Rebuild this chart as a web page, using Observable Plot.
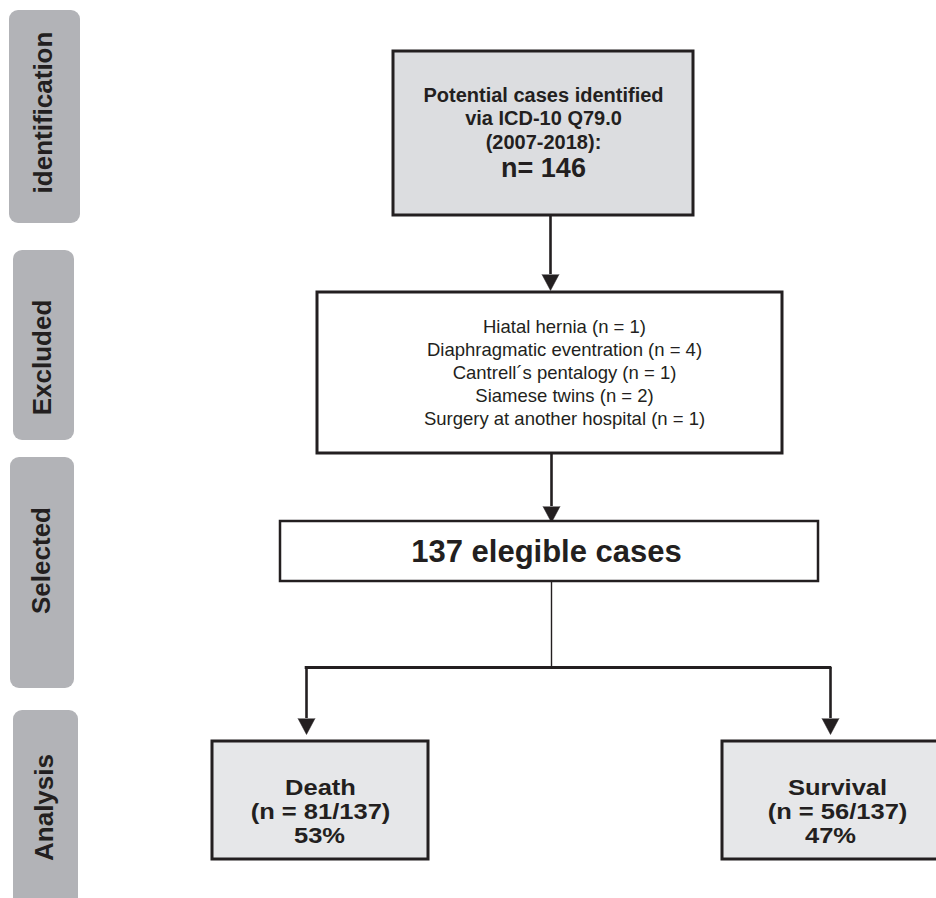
<!DOCTYPE html>
<html>
<head>
<meta charset="utf-8">
<script src="https://cdn.jsdelivr.net/npm/d3@7"></script>
<script src="https://cdn.jsdelivr.net/npm/@observablehq/plot@0.6"></script>
<style>
  html, body { margin: 0; padding: 0; background: #ffffff; }
  #chart svg { display: block; }
</style>
</head>
<body>
<div id="chart"></div>
<script>
// ---------------- data ----------------
const stages = ["identification", "Excluded", "Selected", "Analysis"];
const identifiedLines = ["Potential cases identified", "via ICD-10 Q79.0", "(2007-2018):"];
const identifiedN = 146;
const exclusionReasons = ["Hiatal hernia", "Diaphragmatic eventration", "Cantrell\u00b4s pentalogy", "Siamese twins", "Surgery at another hospital"];
const exclusionCounts = [1, 4, 1, 2, 1];
const eligibleN = 137;
const outcomes = ["Death", "Survival"];
const outcomeCounts = [81, 56];
const outcomePercents = ["53%", "47%"];

// ---------------- layout ----------------
const W = 936, H = 898;
const ink = "#231f20";
const stageGeom = [
  {x1: 9,  x2: 80, y1: 10,  y2: 223},
  {x1: 13, x2: 74, y1: 250, y2: 440},
  {x1: 10, x2: 74, y1: 457, y2: 688},
  {x1: 13, x2: 78, y1: 710, y2: 915}
];
const stageTextY = [112, 357, 560, 807];
const geom = {
  identified: {x1: 393, x2: 693, y1: 51,  y2: 215, fill: "#dcdde0", sw: 3},
  excluded:   {x1: 317, x2: 782, y1: 292, y2: 453, fill: "#ffffff", sw: 3},
  eligible:   {x1: 280, x2: 818, y1: 521, y2: 581, fill: "#ffffff", sw: 2.5},
  death:      {x1: 212, x2: 428, y1: 741, y2: 859, fill: "#e6e7e9", sw: 3},
  survival:   {x1: 722, x2: 952, y1: 741, y2: 859, fill: "#e6e7e9", sw: 3}
};
const branchY = 667;
const outcomeX = [306, 830];
const headLen = 16, headR = 8.5;
const outcomeFontSize = 22, outcomeStretch = 1.16;

const stageRows = stages.map((s, i) => ({
  ...stageGeom[i],
  label: s,
  cx: (stageGeom[i].x1 + stageGeom[i].x2) / 2 - 1,
  cy: stageTextY[i]
}));

const arrows = [
  {x: 550, y1: geom.identified.y2, tip: 290},
  {x: 551, y1: geom.excluded.y2, tip: 522},
  {x: outcomeX[0], y1: branchY, tip: 734},
  {x: outcomeX[1], y1: branchY, tip: 734}
].map(a => ({...a, base: a.tip - headLen}));

const box1Text = [
  ...identifiedLines.map((t, i) => ({text: t, y: 95 + i * 23.5, size: 20})),
  {text: `n= ${identifiedN}`, y: 168, size: 27}
].map(d => ({...d, x: 543}));

const box2Text = exclusionReasons.map((r, i) => ({
  text: `${r} (n = ${exclusionCounts[i]})`, x: 564, y: 327 + i * 22.8
}));

const box3Text = [{text: `${eligibleN} elegible cases`, x: 546, y: 552}];

const outcomeTextX = [320, 837];
const outcomeText = outcomes.flatMap((o, i) => [
  {text: o, x: outcomeTextX[i], y: 787},
  {text: `(n = ${outcomeCounts[i]}/${eligibleN})`, x: outcomeTextX[i], y: 811},
  {text: outcomePercents[i], x: outcomeTextX[i] - (i === 1 ? 7 : 1), y: 835}
]);

const boxMark = b => Plot.rect([b], {x1: "x1", x2: "x2", y1: "y1", y2: "y2", fill: b.fill, stroke: ink, strokeWidth: b.sw});

const chart = Plot.plot({
  width: W,
  height: H,
  margin: 0,
  x: {domain: [0, W], range: [0, W], axis: null},
  y: {domain: [0, H], range: [0, H], axis: null},
  style: {fontFamily: "'Liberation Sans', Arial, Helvetica, sans-serif", background: "#ffffff", overflow: "hidden"},
  marks: [
    // stage tabs
    Plot.rect(stageRows, {x1: "x1", x2: "x2", y1: "y1", y2: "y2", fill: "#b2b3b7", rx: 9}),
    Plot.text(stageRows, {x: "cx", y: "cy", text: "label", rotate: -90, fontSize: 26, fontWeight: "bold", fill: ink}),

    // connectors
    Plot.ruleX(arrows, {x: "x", y1: "y1", y2: "base", stroke: ink, strokeWidth: 2.6}),
    Plot.vector(arrows, {x: "x", y: "base", length: headLen, r: headR, rotate: 180, shape: "spike", anchor: "start", fill: ink, stroke: ink, strokeWidth: 0.5}),
    Plot.ruleX([{x: 551, y1: geom.eligible.y2, y2: branchY}], {x: "x", y1: "y1", y2: "y2", stroke: ink, strokeWidth: 1.4}),
    Plot.ruleY([{y: branchY, x1: outcomeX[0] - 1.3, x2: outcomeX[1] + 1.3}], {y: "y", x1: "x1", x2: "x2", stroke: ink, strokeWidth: 3}),

    // boxes
    boxMark(geom.identified),
    boxMark(geom.excluded),
    boxMark(geom.eligible),
    boxMark(geom.death),
    boxMark(geom.survival),

    // texts
    Plot.text(box1Text, {x: "x", y: "y", text: "text", fontSize: "size", fontWeight: "bold", fill: ink}),
    Plot.text(box2Text, {x: "x", y: "y", text: "text", fontSize: 18.5, fill: ink}),
    Plot.text(box3Text, {x: "x", y: "y", text: "text", fontSize: 31, fontWeight: "bold", fill: ink}),
    Plot.text(outcomeText, {x: "x", y: "y", text: "text", fontSize: outcomeFontSize, fontWeight: "bold", fill: ink})
  ]
});

// the outcome labels in the reference are set in a horizontally stretched face:
// append a horizontal scale to each label's own translate() so it stays anchored
d3.select(chart).selectAll(`g[font-size="${outcomeFontSize}"] text`).each(function () {
  const t = this.getAttribute("transform");
  if (t && t.includes("translate")) {
    this.setAttribute("transform", `${t} scale(${outcomeStretch},1)`);
  }
});

document.getElementById("chart").appendChild(chart);
</script>
</body>
</html>
